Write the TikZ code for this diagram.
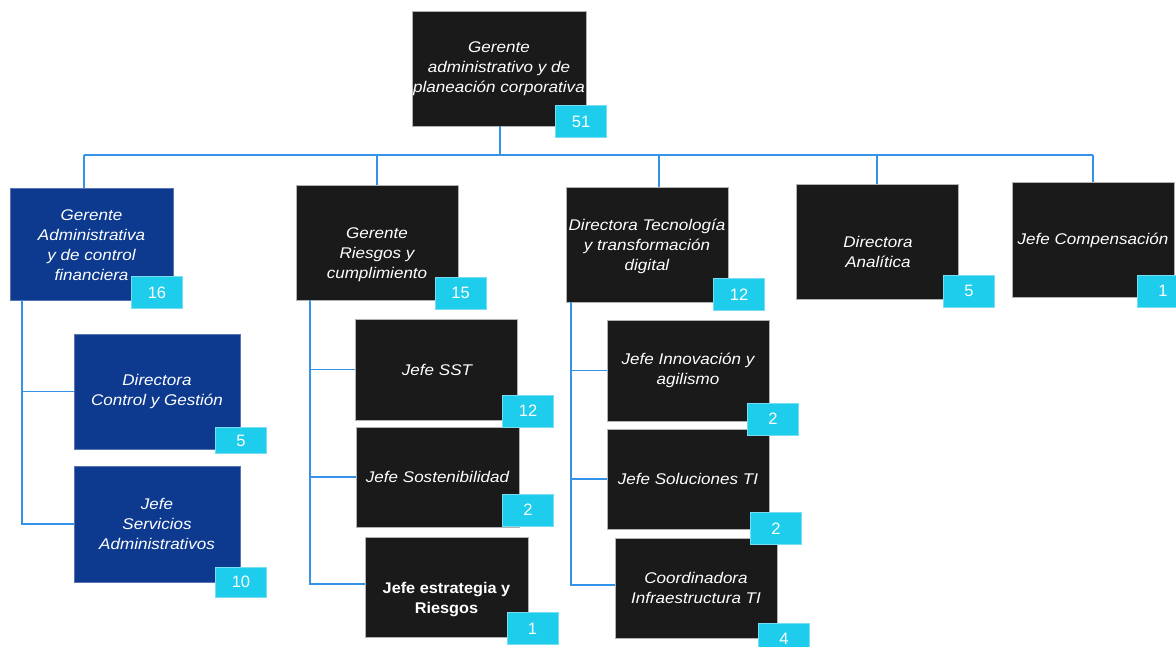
\documentclass[tikz,border=0pt]{standalone}
\usepackage{fontspec}
\setmainfont{Liberation Sans}[ItalicFeatures={FakeStretch=1.1},BoldFeatures={FakeStretch=1.05}]
\definecolor{navy}{RGB}{13,58,143}
\definecolor{blk}{RGB}{26,26,26}
\definecolor{cyanb}{RGB}{30,205,236}
\definecolor{cyanedge}{RGB}{120,220,242}
\definecolor{lnc}{RGB}{52,146,232}
\tikzset{
  box/.style={draw=gray!60, line width=0.6pt, fill=blk, inner sep=0pt},
  nbox/.style={box, draw=navy!70!white, fill=navy},
  txt/.style={text=white, align=center, font=\fontsize{15.5}{20}\selectfont\itshape, inner sep=0pt},
  btxt/.style={text=white, align=center, font=\fontsize{15.5}{20}\selectfont\bfseries, inner sep=0pt},
  badge/.style={draw=cyanedge, line width=0.6pt, fill=cyanb, text=white, minimum width=51pt, minimum height=32pt, inner sep=0pt, font=\fontsize{16.5}{18}\selectfont},
  ln/.style={draw=lnc, line width=1.8pt},
}
\begin{document}
\begin{tikzpicture}[x=1pt,y=-1pt]
\useasboundingbox (0,0) rectangle (1176,647);
% connectors (drawn first, under the boxes)
\coordinate (busL) at (84,155);
\coordinate (busR) at (1093,155);
\coordinate (j0) at (500,155);
\coordinate (j2) at (377,155);
\coordinate (j3) at (659,155);
\coordinate (j4) at (877,155);
% level 0
\node[box, minimum width=174pt, minimum height=115pt] (top) at (499,68.5) {};
\node[txt] (ttop) at (499,69) {Gerente\\administrativo y de\\planeación corporativa};
% level 1
\node[nbox, minimum width=163pt, minimum height=112pt] (b1) at (91.5,244) {};
\node[txt] (tb1) at (91.5,245) {Gerente\\Administrativa\\y de control\\financiera};
\node[box, minimum width=162pt, minimum height=115pt] (b2) at (377,242.5) {};
\node[txt] (tb2) at (377,255) {Gerente\\Riesgos y\\cumplimiento};
\node[box, minimum width=162pt, minimum height=115pt] (b3) at (647,244.5) {};
\node[txt] (tb3) at (647,246) {Directora Tecnología\\y transformación\\digital};
\node[box, minimum width=162pt, minimum height=115pt] (b4) at (877,241.5) {};
\node[txt] (tb4) at (878,252) {Directora\\Analítica};
\node[box, minimum width=162pt, minimum height=115pt] (b5) at (1093,239.5) {};
\node[txt] (tb5) at (1093,240) {Jefe Compensación};
% level 2 - finance
\node[nbox, minimum width=166pt, minimum height=115pt] (c11) at (157,391.5) {};
\node[txt] (tc11) at (157,391.5) {Directora\\Control y Gestión};
\node[nbox, minimum width=166pt, minimum height=116pt] (c12) at (157,524) {};
\node[txt] (tc12) at (157,524) {Jefe\\Servicios\\Administrativos};
% level 2 - risks
\node[box, minimum width=162pt, minimum height=101pt] (c21) at (436,369.5) {};
\node[txt] (tc21) at (437,370) {Jefe SST};
\node[box, minimum width=163pt, minimum height=100pt] (c22) at (437.5,477) {};
\node[txt] (tc22) at (437.5,477) {Jefe Sostenibilidad};
\node[box, minimum width=163pt, minimum height=100pt] (c23) at (446.5,587) {};
\node[btxt] (tc23) at (446.5,600) {Jefe estrategia y\\Riesgos};
% level 2 - tech
\node[box, minimum width=162pt, minimum height=101pt] (c31) at (688,370.5) {};
\node[txt] (tc31) at (688,370.5) {Jefe Innovación y\\agilismo};
\node[box, minimum width=162pt, minimum height=100pt] (c32) at (688,479) {};
\node[txt] (tc32) at (688,479) {Jefe Soluciones TI};
\node[box, minimum width=162pt, minimum height=100pt] (c33) at (696,588) {};
\node[txt] (tc33) at (696,588) {Coordinadora\\Infraestructura TI};
% badges
\node[badge] (n0) at (581,121.5) {51};
\node[badge] (n1) at (157,292.5) {16};
\node[badge] (n2) at (460.5,293) {15};
\node[badge] (n3) at (739,294.5) {12};
\node[badge] (n4) at (969,291) {5};
\node[badge] (n5) at (1163,291) {1};
\node[badge, minimum height=26pt] (n11) at (241,440.5) {5};
\node[badge, minimum height=30pt] (n12) at (241,582) {10};
\node[badge] (n21) at (528,411) {12};
\node[badge] (n22) at (528,510) {2};
\node[badge] (n23) at (532.5,628.5) {1};
\node[badge] (n31) at (773,419) {2};
\node[badge] (n32) at (776,528.5) {2};
\node[badge] (n33) at (784,639) {4};
% connectors
\draw[ln] (j0|-top.south) -- (j0);
\draw[ln] (busL) -- (busR);
\draw[ln] (busL) -- (busL|-b1.north);
\draw[ln] (j2) -- (j2|-b2.north);
\draw[ln] (j3) -- (j3|-b3.north);
\draw[ln] (j4) -- (j4|-b4.north);
\draw[ln] (busR) -- (busR|-b5.north);
% finance spine
\coordinate (s1) at (22,300);
\draw[ln] (s1) |- (c12.west);
\draw[ln] (s1|-c11.west) -- (c11.west);
% risk spine
\coordinate (s2) at (310,300);
\coordinate (e23) at (310,584);
\draw[ln] (s2) -- (e23) -- (e23-|c23.west);
\draw[ln] (s2|-c21.west) -- (c21.west);
\draw[ln] (s2|-c22.west) -- (c22.west);
% tech spine
\coordinate (s3) at (571,302);
\coordinate (e33) at (571,585);
\draw[ln] (s3) -- (e33) -- (e33-|c33.west);
\draw[ln] (s3|-c31.west) -- (c31.west);
\draw[ln] (s3|-c32.west) -- (c32.west);
\end{tikzpicture}
\end{document}
